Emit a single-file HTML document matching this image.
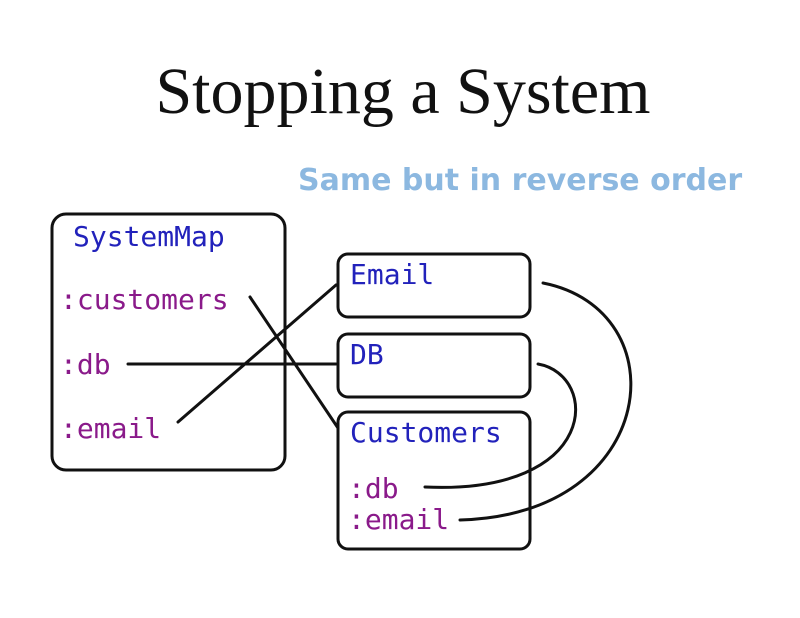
<!DOCTYPE html>
<html><head><style>
body{margin:0;width:800px;height:618px;background:#fff;position:relative;overflow:hidden}
.t{position:absolute;white-space:nowrap}
.m{font-family:"DejaVu Sans Mono","Liberation Mono",monospace;font-size:28px}
.b{color:#2222bb}.p{color:#8a1a8a}
</style></head><body>
<div class="t" style="left:0;width:806px;text-align:center;top:54px;font-family:'Liberation Serif',serif;font-size:66px;color:#111">Stopping a System</div>
<div class="t" style="left:298px;top:163px;font-family:'DejaVu Sans','Liberation Sans',sans-serif;font-weight:bold;font-size:30px;color:#8cb8e0">Same but in reverse order</div>
<svg width="800" height="618" style="position:absolute;left:0;top:0" fill="none" stroke="#111" stroke-width="3" stroke-linecap="round">
<rect x="52" y="214" width="233" height="256" rx="14"/>
<rect x="338" y="254" width="192" height="63" rx="10"/>
<rect x="338" y="334" width="192" height="63" rx="10"/>
<rect x="338" y="412" width="192" height="137" rx="10"/>
<line x1="250" y1="297" x2="338" y2="428"/>
<line x1="178" y1="422" x2="336" y2="285"/>
<line x1="128" y1="364" x2="336" y2="364"/>
<path d="M543 283 C680 310 660 515 460 520"/>
<path d="M538 364 C600 375 600 495 425 487"/>
</svg>
<div class="t m b" style="left:73px;top:220px">SystemMap</div>
<div class="t m p" style="left:60px;top:283px">:customers</div>
<div class="t m p" style="left:60px;top:348px">:db</div>
<div class="t m p" style="left:60px;top:412px">:email</div>
<div class="t m b" style="left:350px;top:258px">Email</div>
<div class="t m b" style="left:350px;top:338px">DB</div>
<div class="t m b" style="left:350px;top:416px">Customers</div>
<div class="t m p" style="left:348px;top:472px">:db</div>
<div class="t m p" style="left:348px;top:503px">:email</div>
</body></html>
